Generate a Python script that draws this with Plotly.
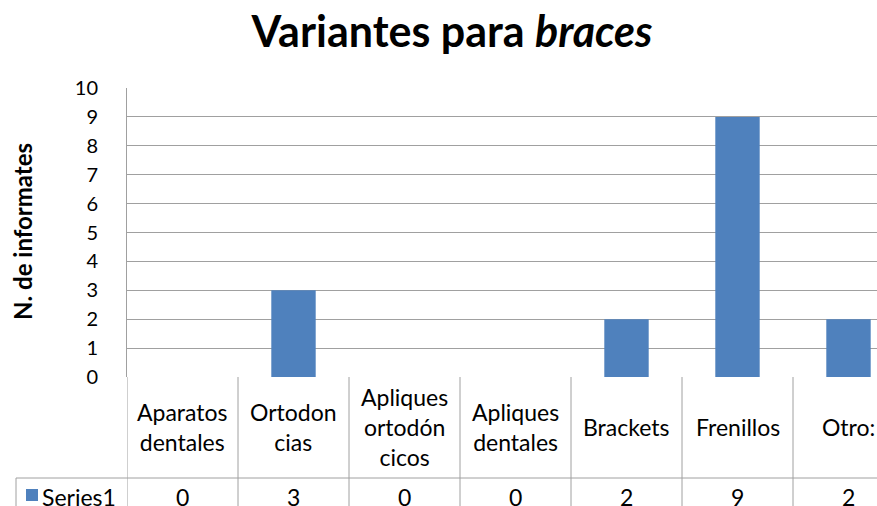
import plotly.graph_objects as go

categories = ["Aparatos dentales", "Ortodoncias", "Apliques ortodóncicos",
              "Apliques dentales", "Brackets", "Frenillos", "Otro:"]
table_labels = ["Aparatos<br>dentales", "Ortodon<br>cias", "Apliques<br>ortodón<br>cicos",
                "Apliques<br>dentales", "Brackets", "Frenillos", "Otro:"]
series_name = "Series1"
values = [0, 3, 0, 0, 2, 9, 2]
y_ticks = list(range(0, 11))

W, H = 877, 506
L, T, B = 127, 88, 129
plot_w = W - L
plot_h = H - T - B
cat_px = 111.0
bar_color = "#4F81BD"
grid_color = "#A0A0A0"
FONT = "Lato"

def px_x(px):
    return (px - L) / plot_w

def px_y(py):
    return (H - B - py) / plot_h

x = list(range(len(categories)))

fig = go.Figure()
fig.add_trace(go.Bar(x=x, y=values, marker=dict(color=bar_color, line=dict(width=0)),
                     name=series_name, showlegend=False))

fig.update_layout(
    width=W, height=H,
    margin=dict(l=L, r=0, t=T, b=B, pad=0),
    paper_bgcolor="white", plot_bgcolor="white",
    bargap=0.6,
    font=dict(family=FONT, color="black"),
    title=dict(text="<b>Variantes para <i>braces</i></b>", x=px_x(452), xref="paper",
               y=1 - 32 / H, yref="container", xanchor="center", yanchor="middle",
               font=dict(family=FONT, size=43, color="black")),
    xaxis=dict(range=[-0.5, -0.5 + plot_w / cat_px], showticklabels=False,
               showgrid=False, zeroline=False, showline=False, ticks=""),
    yaxis=dict(range=[0, 10], tickvals=y_ticks, showgrid=True, gridcolor=grid_color,
               gridwidth=1, zeroline=False, showline=True, linecolor=grid_color,
               linewidth=1, ticks="", ticklabelstandoff=24,
               tickfont=dict(family=FONT, size=20, color="black")),
)

# y-axis title
fig.add_annotation(text="<b>N. de informates</b>", textangle=-90, xref="paper", yref="paper",
                   x=px_x(22), y=px_y(231), showarrow=False, xanchor="center", yanchor="middle",
                   font=dict(family=FONT, size=24, color="black"))

line = dict(color=grid_color, width=1)
y_top = 0
y_mid = px_y(478)
y_bot = px_y(530)

# table: left border of category row
fig.add_shape(type="line", xref="x", yref="paper", x0=-0.5, x1=-0.5, y0=y_top, y1=y_bot, line=line)
# column separators
for k in range(len(categories) - 1):
    fig.add_shape(type="line", xref="x", yref="paper", x0=k + 0.5, x1=k + 0.5,
                  y0=y_top, y1=y_bot, line=line)
# horizontal separator between label row and series row
fig.add_shape(type="line", xref="paper", yref="paper", x0=px_x(16), x1=1,
              y0=y_mid, y1=y_mid, line=line)
# left border of series row
fig.add_shape(type="line", xref="paper", yref="paper", x0=px_x(16), x1=px_x(16),
              y0=y_mid, y1=y_bot, line=line)

# category labels
for xi, lab in zip(x, table_labels):
    fig.add_annotation(text=lab, x=xi, xref="x", y=px_y(427), yref="paper", showarrow=False,
                       xanchor="center", yanchor="middle",
                       font=dict(family=FONT, size=23, color="black"))
# series values
for xi, v in zip(x, values):
    fig.add_annotation(text=str(v), x=xi, xref="x", y=px_y(497), yref="paper", showarrow=False,
                       xanchor="center", yanchor="middle",
                       font=dict(family=FONT, size=23, color="black"))

# legend key & series name
fig.add_shape(type="rect", xref="paper", yref="paper", x0=px_x(26), x1=px_x(38),
              y0=px_y(489), y1=px_y(501), fillcolor=bar_color, line=dict(width=0))
fig.add_annotation(text=series_name, xref="paper", yref="paper", x=px_x(40), y=px_y(497),
                   showarrow=False, xanchor="left", yanchor="middle",
                   font=dict(family=FONT, size=23, color="black"))

fig.write_html("out.html",
               config={"displayModeBar": False},
               post_script="document.body.style.margin='0';"
                           "document.documentElement.style.overflow='hidden';")
